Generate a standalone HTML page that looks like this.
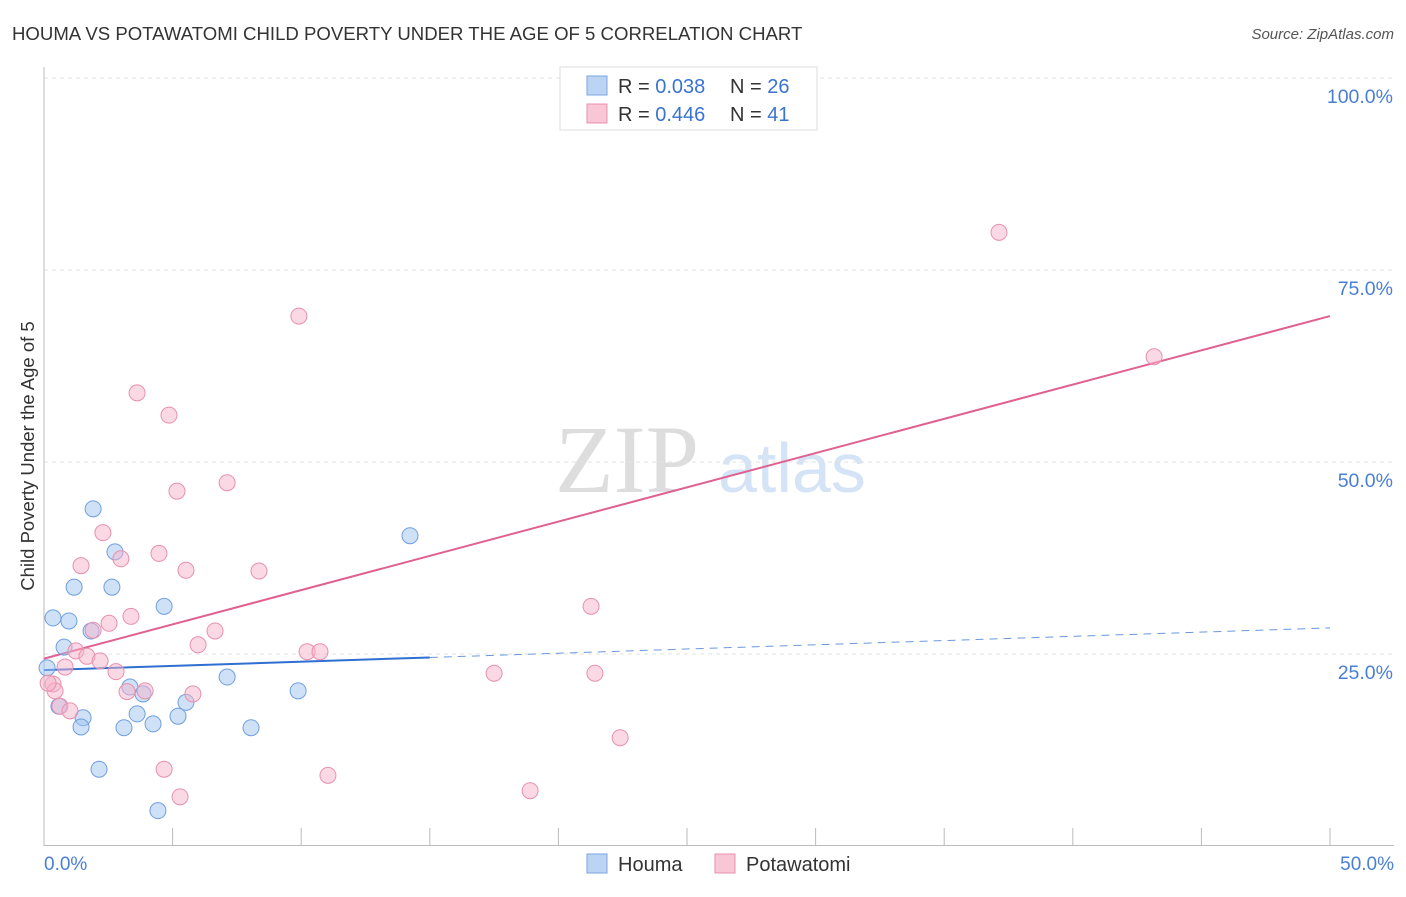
<!DOCTYPE html>
<html><head><meta charset="utf-8"><style>
body{margin:0;background:#fff;font-family:"Liberation Sans",sans-serif;}
</style></head><body>
<svg id="c" width="1406" height="892" xmlns="http://www.w3.org/2000/svg" style="font-family:'Liberation Sans',sans-serif">
<text x="12" y="40" font-size="18.6" fill="#333">HOUMA VS POTAWATOMI CHILD POVERTY UNDER THE AGE OF 5 CORRELATION CHART</text>
<text x="1394" y="39" font-size="15" fill="#555" font-style="italic" text-anchor="end">Source: ZipAtlas.com</text>
<text x="555" y="492" font-size="96" fill="#ddd" font-family="Liberation Serif">ZIP</text>
<text x="718" y="492" font-size="70" fill="#d4e3f5">atlas</text>
<g id="grid"></g><g id="axes"></g><g id="trend"></g><g id="pts"></g>
<text transform="translate(34,456) rotate(-90)" font-size="18.5" fill="#333" text-anchor="middle">Child Poverty Under the Age of 5</text>
<text x="44" y="870" font-size="19" fill="#4a7fd4">0.0%</text>
<text x="1394" y="870" font-size="19" fill="#4a7fd4" text-anchor="end">50.0%</text>
<g>
<rect x="560" y="67" width="257" height="63" fill="#fff" stroke="#ddd"/>
<rect x="587" y="76" width="20" height="19" fill="#bcd4f4" stroke="#7aa6e0"/>
<rect x="587" y="104" width="20" height="19" fill="#f9c6d6" stroke="#e890ae"/>
<text x="618" y="93" font-size="20" fill="#333">R = <tspan fill="#3a73d0">0.038</tspan><tspan x="730">N = </tspan><tspan fill="#3a73d0">26</tspan></text>
<text x="618" y="121" font-size="20" fill="#333">R = <tspan fill="#3a73d0">0.446</tspan><tspan x="730">N = </tspan><tspan fill="#3a73d0"> 41</tspan></text>
</g>
<rect x="587" y="854" width="20" height="19" fill="#bcd4f4" stroke="#7aa6e0"/>
<text x="618" y="871" font-size="20" fill="#333">Houma</text>
<rect x="715" y="854" width="20" height="19" fill="#f9c6d6" stroke="#e890ae"/>
<text x="746" y="871" font-size="20" fill="#333">Potawatomi</text>
</svg>
<script>
const yTicks=[25,50,75,100];
const yTickLabels=["25.0%","50.0%","75.0%","100.0%"];
const xTicks=[0,5,10,15,20,25,30,35,40,45,50];
const houmaX=[0.12,0.35,0.97,1.17,0.78,1.91,2.76,2.64,1.83,4.67,0.58,1.52,1.44,3.34,3.85,3.62,3.11,4.24,5.52,5.21,7.12,2.14,4.43,8.05,9.88,14.23];
const houmaY=[23.2,29.7,29.3,33.7,25.9,43.9,38.3,33.7,28.0,31.2,18.2,16.7,15.5,20.7,19.8,17.2,15.4,15.9,18.7,16.9,22.0,10.0,4.6,15.4,20.2,40.4];
const potX=[37.13,9.91,43.16,3.62,4.86,5.17,7.12,2.29,2.99,4.47,1.44,5.52,8.36,3.38,2.53,1.91,6.65,21.27,5.99,1.24,1.67,2.18,0.82,2.80,10.23,10.73,17.50,21.42,0.35,0.43,3.93,3.23,5.79,0.62,1.01,22.40,4.67,11.04,5.29,18.90,0.16];
const potY=[79.9,69.0,63.7,59.0,56.1,46.2,47.3,40.8,37.4,38.1,36.5,35.9,35.8,29.9,29.0,28.1,28.0,31.2,26.2,25.4,24.7,24.1,23.3,22.7,25.3,25.3,22.5,22.5,21.1,20.2,20.2,20.1,19.8,18.2,17.6,14.1,10.0,9.2,6.4,7.2,21.2];
const houmaTrend=[22.9,28.4];
const potTrend=[24.4,69.0];
const X=v=>44+v/50*1286, Y=v=>846-v/25*192;
const NS="http://www.w3.org/2000/svg";
function mk(t,a,p){const e=document.createElementNS(NS,t);for(const k in a)e.setAttribute(k,a[k]);p.appendChild(e);return e;}
const g=document.getElementById('grid'),ax=document.getElementById('axes'),tr=document.getElementById('trend'),pts=document.getElementById('pts');
yTicks.forEach((t,i)=>{
 const l=mk('line',{x1:44,x2:1394,y1:Y(t),y2:Y(t),stroke:'#e2e2e2','stroke-dasharray':'4,4'},g);
 
 
 const tx=mk('text',{x:1393,y:Y(t)+25,'font-size':19.5,fill:'#4a7fd4','text-anchor':'end'},g);
 tx.textContent=yTickLabels[i];
 
 
});
const la=mk('line',{x1:44,x2:44,y1:67,y2:846,stroke:'#bbb'},ax);


const ba=mk('line',{x1:44,x2:1394,y1:845.5,y2:845.5,stroke:'#bbb'},ax);


xTicks.forEach(t=>{
 const l=mk('line',{x1:X(t),x2:X(t),y1:828,y2:846,stroke:'#bbb'},ax);
 
 
});
const hs=mk('line',{x1:X(0),y1:Y(houmaTrend[0]),x2:X(15),y2:Y(houmaTrend[0]+(houmaTrend[1]-houmaTrend[0])*0.3),stroke:'#2f6fd0','stroke-width':2},tr);


const hd=mk('line',{x1:X(15),y1:Y(houmaTrend[0]+(houmaTrend[1]-houmaTrend[0])*0.3),x2:X(50),y2:Y(houmaTrend[1]),stroke:'#6a98dc','stroke-width':1,'stroke-dasharray':'8,6'},tr);


const pt=mk('line',{x1:X(0),y1:Y(potTrend[0]),x2:X(50),y2:Y(potTrend[1]),stroke:'#e0608f','stroke-width':2},tr);


houmaX.forEach((v,i)=>{
 const c=mk('circle',{cx:X(v),cy:Y(houmaY[i]),r:8,fill:'rgba(160,195,240,0.5)',stroke:'#6f9fe0','stroke-width':1},pts);
 
 
});
potX.forEach((v,i)=>{
 const c=mk('circle',{cx:X(v),cy:Y(potY[i]),r:8,fill:'rgba(245,180,202,0.5)',stroke:'#e890ae','stroke-width':1},pts);
 
 
});
</script>
</body></html>
